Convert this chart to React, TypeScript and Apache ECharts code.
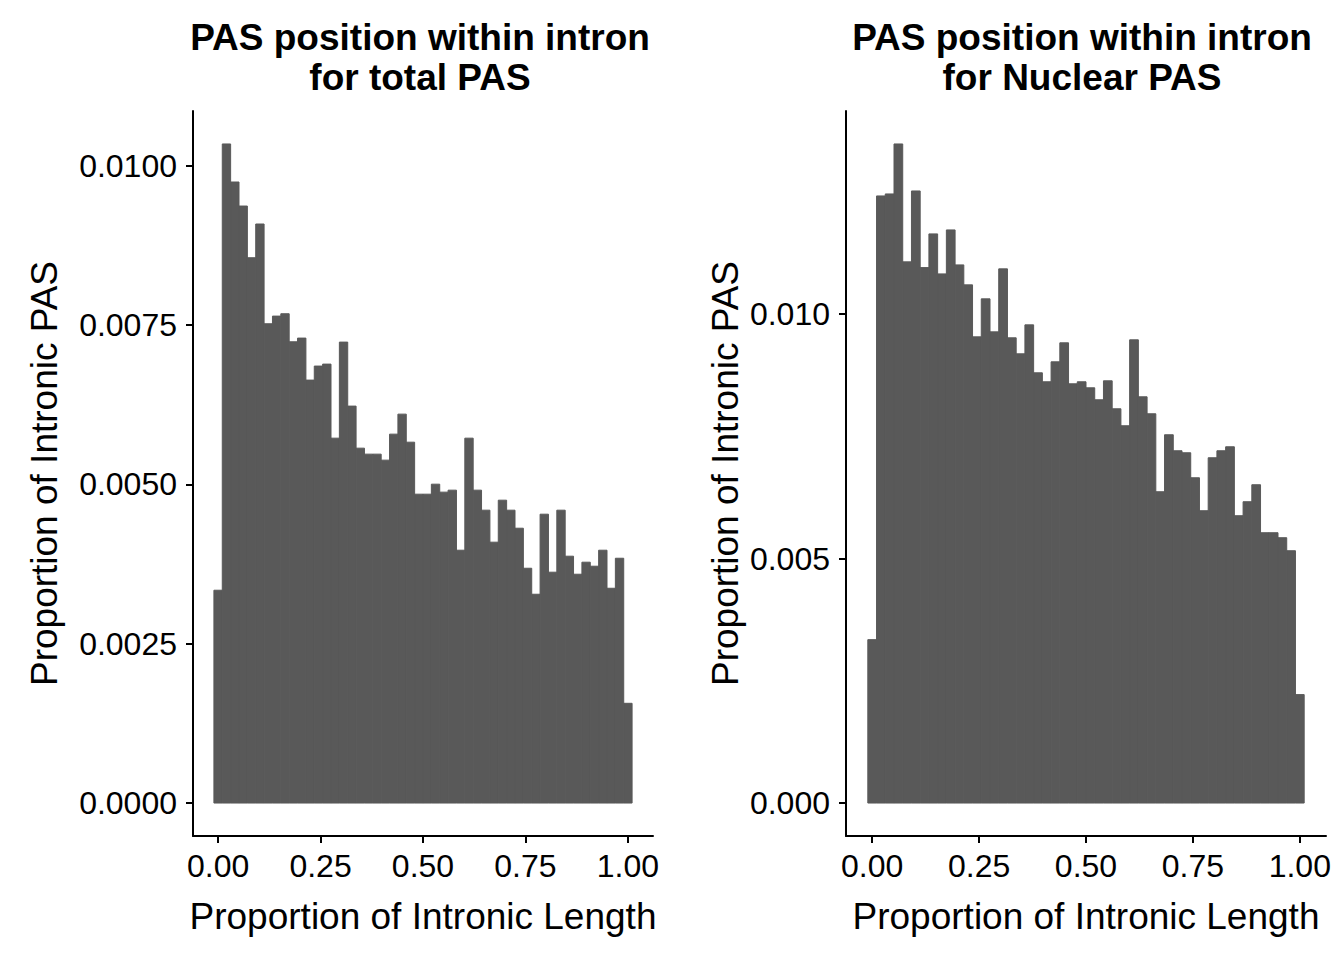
import React, { useEffect, useRef } from "react";
import * as echarts from "echarts";

// Histogram: 50 bins over [0, 1], bins centred on 0 .. 1
const BIN_COUNT = 50;
const binCenters: number[] = Array.from({ length: BIN_COUNT }, (_, i) => i / (BIN_COUNT - 1));
const binWidth = 1 / (BIN_COUNT - 1);

const totalPAS: number[] = [
  0.003339, 0.010341, 0.009744, 0.009367, 0.008556, 0.009085, 0.00752, 0.00764, 0.007677, 0.007237,
  0.007295, 0.006636, 0.006856, 0.006887, 0.005725, 0.007232, 0.006228, 0.005568, 0.005474, 0.005474,
  0.00538, 0.005788, 0.006102, 0.005662, 0.004846, 0.004846, 0.005003, 0.004878, 0.004909, 0.003967,
  0.005725, 0.004909, 0.004595, 0.004093, 0.004752, 0.004595, 0.004312, 0.003684, 0.003276, 0.004532,
  0.003622, 0.004595, 0.003873, 0.00359, 0.003779, 0.003716, 0.003967, 0.00337, 0.003841, 0.001565,
];

const nuclearPAS: number[] = [
  0.003341, 0.012413, 0.012454, 0.013476, 0.011065, 0.012515, 0.010948, 0.011637, 0.010819, 0.011718,
  0.011003, 0.010595, 0.009532, 0.010309, 0.009634, 0.010922, 0.009512, 0.009185, 0.009777, 0.008797,
  0.008613, 0.009021, 0.00941, 0.008572, 0.008613, 0.00849, 0.008245, 0.008633, 0.008061, 0.007714,
  0.009471, 0.008306, 0.007959, 0.006365, 0.00753, 0.007203, 0.007162, 0.006651, 0.005977, 0.00706,
  0.007203, 0.007284, 0.005875, 0.006161, 0.006508, 0.005527, 0.005527, 0.005425, 0.005159, 0.002217,
];

const xTicks: number[] = [0, 0.25, 0.5, 0.75, 1];
const yTicksTotal: number[] = [0, 0.0025, 0.005, 0.0075, 0.01];
const yTicksNuclear: number[] = [0, 0.005, 0.01];

const titles: string[] = [
  "PAS position within intron\nfor total PAS",
  "PAS position within intron\nfor Nuclear PAS",
];
const xAxisTitle = "Proportion of Intronic Length";
const yAxisTitle = "Proportion of Intronic PAS";

const FONT = "'Liberation Sans', Arial, Helvetica, sans-serif";
const BAR = "#595959";

export default function App() {
  const ref = useRef<HTMLDivElement>(null);

  useEffect(() => {
    if (!ref.current) return;
    const chart = echarts.init(ref.current, undefined, { renderer: "svg" });

    const xMin = -binWidth / 2 - 0.05 * (1 + binWidth);
    const xMax = 1 + binWidth / 2 + 0.05 * (1 + binWidth);

    const grids = [
      { left: 193, top: 111, width: 460, height: 725 },
      { left: 846, top: 111, width: 480, height: 725 },
    ];
    const titleCenters = [415, 1077];
    const datasets = [totalPAS, nuclearPAS];
    const yTicks = [yTicksTotal, yTicksNuclear];
    const decimals = [4, 3];

    const axisLine = { show: true, onZero: false, lineStyle: { color: "#000", width: 2 } };
    const axisTick = (vals: number[]) => ({
      show: true,
      length: 7,
      lineStyle: { color: "#000", width: 2 },
      customValues: vals,
    });

    const option: any = {
      animation: false,
      backgroundColor: "#fff",
      title: grids.map((_g, i) => ({
        text: titles[i],
        left: titleCenters[i],
        top: 12,
        textAlign: "center",
        textStyle: {
          fontFamily: FONT,
          fontWeight: "bold",
          fontSize: 37,
          lineHeight: 40,
          color: "#000",
        },
      })),
      grid: grids.map((g) => ({ ...g, containLabel: false })),
      xAxis: grids.map((_, i) => ({
        type: "value",
        gridIndex: i,
        min: xMin,
        max: xMax,
        splitLine: { show: false },
        axisLine,
        axisTick: axisTick(xTicks),
        axisLabel: {
          customValues: xTicks,
          formatter: (v: number) => v.toFixed(2),
          fontFamily: FONT,
          fontSize: 32,
          color: "#000",
          margin: 14,
        },
        name: xAxisTitle,
        nameLocation: "middle",
        nameGap: 62,
        nameTextStyle: { fontFamily: FONT, fontSize: 37, color: "#000" },
      })),
      yAxis: grids.map((_, i) => {
        const m = Math.max(...datasets[i]);
        return {
          type: "value",
          gridIndex: i,
          min: -0.05 * m,
          max: 1.05 * m,
          splitLine: { show: false },
          axisLine,
          axisTick: axisTick(yTicks[i]),
          axisLabel: {
            customValues: yTicks[i],
            formatter: (v: number) => v.toFixed(decimals[i]),
            fontFamily: FONT,
            fontSize: 32,
            color: "#000",
            margin: 16,
          },
          name: yAxisTitle,
          nameLocation: "middle",
          nameGap: i === 0 ? 130 : 102,
          nameTextStyle: { fontFamily: FONT, fontSize: 37, color: "#000" },
        };
      }),
      series: datasets.map((vals, i) => ({
        type: "custom",
        xAxisIndex: i,
        yAxisIndex: i,
        data: binCenters.map((c, j) => [c, vals[j]]),
        renderItem: (_params: any, api: any) => {
          const x = api.value(0);
          const y = api.value(1);
          const p0 = api.coord([x - binWidth / 2, y]);
          const p1 = api.coord([x + binWidth / 2, 0]);
          return {
            type: "rect",
            shape: { x: p0[0], y: p0[1], width: p1[0] - p0[0], height: p1[1] - p0[1] },
            style: { fill: BAR, stroke: BAR, lineWidth: 1 },
          };
        },
      })),
    };

    chart.setOption(option);
    return () => chart.dispose();
  }, []);

  return (
    <div
      ref={ref}
      style={{ position: "fixed", left: 0, top: 0, width: 1344, height: 960, background: "#fff" }}
    />
  );
}
